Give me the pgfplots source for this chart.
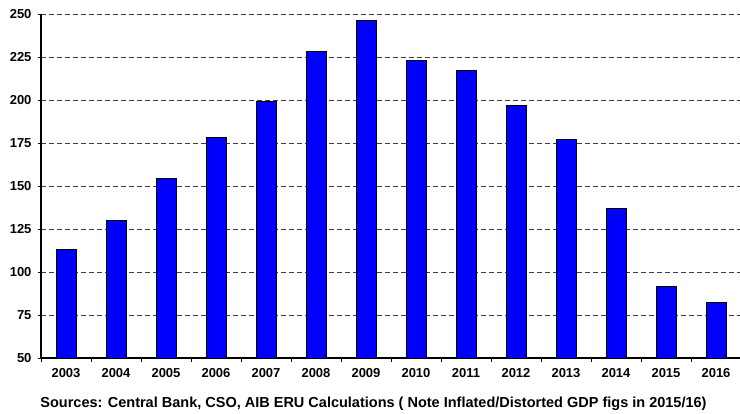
\documentclass[border=0pt]{standalone}
\usepackage{pgfplots}
\pgfplotsset{compat=1.18}
\usepackage{fontspec}
\setmainfont{Liberation Sans}
\begin{document}
\begin{tikzpicture}
\path[use as bounding box] (-41pt,-56pt) rectangle (699pt,358pt);
\begin{axis}[
  at={(0,0)}, anchor=south west,
  scale only axis, width=700pt, height=344pt,
  xmin=-0.5, xmax=13.5, ymin=50, ymax=250,
  axis x line*=bottom, axis y line*=left,
  axis line style={black, line width=1.1pt, -},
  ybar, bar width=20pt,
  xtick={0,...,13},
  xticklabels={2003,2004,2005,2006,2007,2008,2009,2010,2011,2012,2013,2014,2015,2016},
  minor xtick={-0.5,0.5,...,13.5},
  major x tick style={draw=none},
  minor x tick style={black, line width=0.6pt},
  minor tick length=4pt,
  ytick={50,75,...,250},
  tick align=outside, major tick length=3pt,
  y tick style={black, line width=0.6pt},
  ymajorgrids,
  major grid style={densely dashed, black!75, line width=0.9pt, dash pattern=on 5pt off 3pt},
  tick label style={font=\fontsize{13}{15}\selectfont\bfseries},
  /pgf/number format/assume math mode=true,
  xticklabel style={yshift=-4pt},
  yticklabel style={xshift=-3pt},
  clip=false,
]
\addplot[fill={rgb,255:red,0;green,0;blue,255}, draw=black, line width=0.8pt] coordinates {
 (0,113) (1,130) (2,154.5) (3,178) (4,199) (5,228) (6,246.5) (7,223) (8,217) (9,197) (10,177) (11,137) (12,91.5) (13,82.5)
};
\end{axis}
\node[font=\fontsize{14.5}{16}\selectfont\bfseries] at (332.5pt,-46pt) {Sources: Central Bank, CSO, AIB ERU Calculations ( Note Inflated/Distorted GDP figs in 2015/16)};
\end{tikzpicture}
\end{document}
